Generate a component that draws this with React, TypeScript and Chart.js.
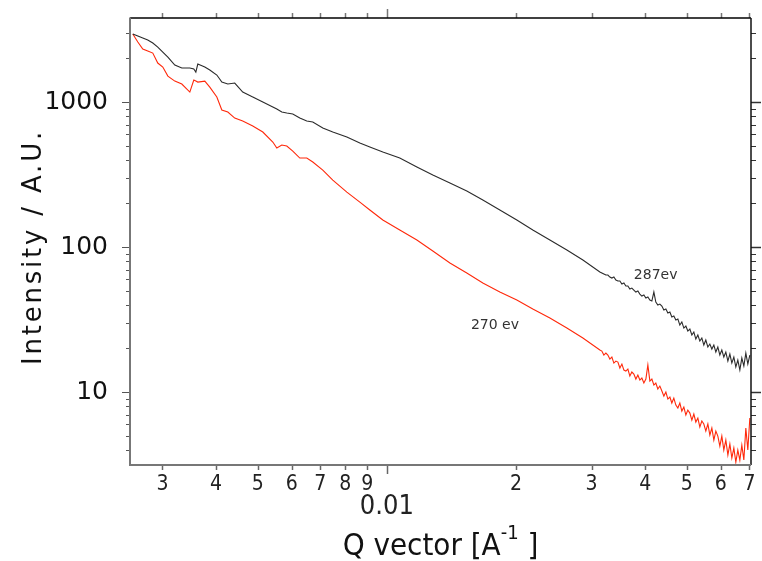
import React, { useEffect, useRef } from 'react';
import { Chart, registerables } from 'chart.js';

Chart.register(...registerables);

// Q vector values [A^-1]
const qVector = [
  0.002558, 0.002628, 0.002699, 0.002772, 0.002848, 0.002925, 0.003005, 0.003088, 0.003205, 0.003328,
  0.003474, 0.003549, 0.003588, 0.003626, 0.003765, 0.003867, 0.004016, 0.004125, 0.00426, 0.004421,
  0.004615, 0.00487, 0.00514, 0.005423, 0.005541, 0.005691, 0.005846, 0.006037, 0.006268, 0.006508,
  0.006721, 0.007092, 0.007483, 0.008069, 0.008652, 0.009129, 0.009788,
  0.01072, 0.01175, 0.0128, 0.01403, 0.01536, 0.01674, 0.01834, 0.02009, 0.02189, 0.02399, 0.02628, 0.02864, 0.03137,
  0.03171, 0.03205, 0.0324, 0.03275, 0.0331, 0.03346, 0.03382, 0.03419, 0.03456, 0.03493,
  0.03531, 0.03569, 0.03607, 0.03646, 0.03685, 0.03725, 0.03765, 0.03806, 0.03847, 0.03888,
  0.0393, 0.03973, 0.04016, 0.04059, 0.04103, 0.04147, 0.04192, 0.04236, 0.04282, 0.04329,
  0.04376, 0.04423, 0.04471, 0.04519, 0.04568, 0.04616, 0.04666, 0.04717, 0.04768, 0.04819,
  0.04871, 0.04924, 0.04977, 0.0503, 0.05085, 0.0514, 0.05195, 0.05251, 0.05308, 0.05365,
  0.05423, 0.05481, 0.0554, 0.05601, 0.05661, 0.05722, 0.05784, 0.05846, 0.05909, 0.05973,
  0.06037, 0.06102, 0.06168, 0.06236, 0.06303, 0.0637, 0.06439, 0.06508, 0.06578, 0.0665,
  0.06721, 0.06794, 0.06867, 0.06941, 0.07016,
];

// Intensity at 287 eV (black)
const intensity287 = [
  2944, 2852, 2763, 2677, 2552, 2395, 2212, 2043, 1800, 1716,
  1716, 1689, 1610, 1829, 1744, 1662, 1536, 1374, 1331, 1352,
  1172, 1083, 1000, 923.7, 894.7, 853.1, 839.7, 826.5, 775.6, 739.5,
  727.9, 661.7, 621.1, 573.6, 521.5, 489.4, 452.0,
  411.0, 356.1, 313.7, 276.3, 243.3, 210.9, 180.0, 153.6, 131.0, 111.8, 95.35, 81.36, 67.23,
  66.16, 65.12, 64.11, 64.11, 62.1, 61.13, 62.1, 59.22, 58.29, 58.29,
  55.57, 56.46, 53.84, 53.84, 51.33, 52.16, 50.52, 48.94, 49.72, 47.41,
  45.93, 46.67, 44.5, 45.21, 43.1, 42.42, 48.94, 41.75, 39.81, 40.45,
  39.18, 36.78, 37.36, 35.07, 35.63, 32.91, 33.43, 31.38, 31.88, 28.98,
  30.4, 27.63, 28.52, 26.35, 27.2, 24.73, 25.93, 23.21, 24.73, 22.48,
  23.58, 21.1, 22.84, 20.44, 21.43, 19.8, 21.1, 18.87, 20.44, 18.0,
  19.48, 17.44, 18.87, 16.36, 18.28, 15.85, 17.44, 14.88, 16.62, 14.18,
  17.16, 15.12, 18.57, 15.6, 18.0,
];

// Intensity at 270 eV (red)
const intensity270 = [
  2944, 2593, 2320, 2247, 2177, 1858, 1744, 1511, 1395, 1331,
  1172, 1418, 1395, 1374, 1395, 1269, 1083, 880.7, 853.1, 775.6,
  739.5, 683.1, 621.1, 529.8, 481.7, 505.1, 497.2, 459.3, 411.0, 411.0,
  385.7, 339.6, 289.8, 239.5, 204.3, 180.0, 153.6,
  131.0, 111.8, 93.84, 77.57, 66.17, 56.45, 48.94, 43.1, 37.36, 32.38, 27.63, 23.57, 19.48,
  19.17, 18.0, 18.57, 18.0, 16.89, 17.44, 15.85, 16.36, 16.1, 14.65,
  15.6, 14.18, 13.96, 14.41, 12.89, 13.74, 13.31, 12.29, 13.1, 12.1,
  12.49, 11.54, 12.29, 15.36, 11.91, 12.29, 11.18, 11.54, 10.49, 11.0,
  10.16, 9.38, 10.0, 8.95, 9.24, 8.4, 9.09, 8.135, 7.76, 8.4,
  7.39, 7.88, 6.939, 7.513, 7.16, 6.411, 7.05, 6.21, 6.62, 5.74,
  6.31, 6.02, 5.38, 6.02, 5.052, 5.65, 4.667, 5.38, 4.97, 4.24,
  4.97, 3.981, 4.667, 3.678, 4.38, 3.51, 4.11, 3.29, 3.981, 3.397,
  4.31, 3.397, 5.65, 3.981, 6.62,
];

const xMin = 0.00252;
const xMax = 0.0706;
const yMin = 3.14;
const yMax = 3800;

const xLabelTicks = [0.003, 0.004, 0.005, 0.006, 0.007, 0.008, 0.009, 0.01, 0.02, 0.03, 0.04, 0.05, 0.06, 0.07];
const xMajorTicks = [0.01];
const xMinorTicks = [0.003, 0.004, 0.005, 0.006, 0.007, 0.008, 0.009, 0.02, 0.03, 0.04, 0.05, 0.06, 0.07];
const yLabelTicks = [10, 100, 1000];
const yMinorTicks = [4, 5, 6, 7, 8, 9, 20, 30, 40, 50, 60, 70, 80, 90, 200, 300, 400, 500, 600, 700, 800, 900, 2000, 3000];

const yTitle = 'Intensity / A.U.';
const xTitleMain = 'Q vector [A';
const xTitleSup = '-1';
const xTitleEnd = ' ]';

const label287 = '287ev';
const label287At = { x: 0.03765, y: 64.1 };
const label270 = '270 ev';
const label270At = { x: 0.0157, y: 29.0 };

const condensed = '"Liberation Sans Narrow", "DejaVu Sans Condensed", sans-serif';
const isMajorX = (v: number) => Math.abs(v - 0.01) < 1e-9;

const framePlugin = {
  id: 'frame',
  afterDraw(chart: any) {
    const { ctx, chartArea: a, scales } = chart;
    const xs = scales.x;
    const ys = scales.y;
    ctx.save();
    const line = (x1: number, y1: number, x2: number, y2: number, color: string, w: number) => {
      ctx.beginPath();
      ctx.strokeStyle = color;
      ctx.lineWidth = w;
      ctx.moveTo(x1, y1);
      ctx.lineTo(x2, y2);
      ctx.stroke();
    };
    xMajorTicks.forEach((v) => {
      const p = Math.round(xs.getPixelForValue(v)) + 0.5;
      line(p, a.bottom, p, a.bottom + 9, '#666', 1.5);
      line(p, a.top, p, a.top - 9, '#777', 1.5);
    });
    xMinorTicks.forEach((v) => {
      const p = Math.round(xs.getPixelForValue(v)) + 0.5;
      line(p, a.bottom, p, a.bottom + 5, '#666', 1.5);
      line(p, a.top, p, a.top - 5, '#777', 1.5);
    });
    yLabelTicks.forEach((v) => {
      const p = Math.round(ys.getPixelForValue(v)) + 0.5;
      line(a.left, p, a.left - 8, p, '#555', 1);
      line(a.right, p, a.right + 10, p, '#333', 1.5);
    });
    yMinorTicks.forEach((v) => {
      const p = Math.round(ys.getPixelForValue(v)) + 0.5;
      line(a.left, p, a.left - 4, p, '#555', 1);
      line(a.right, p, a.right + 5, p, '#333', 1);
    });
    line(a.left, a.top, a.right, a.top, '#000', 1.5);
    line(a.right, a.top, a.right, a.bottom, '#111', 1.5);
    line(a.left, a.top - 0.5, a.left, a.bottom + 1, '#777', 2);
    line(a.left - 1, a.bottom, a.right, a.bottom, '#777', 2);

    ctx.fillStyle = '#111';
    ctx.font = '26px "DejaVu Sans", sans-serif';
    (ctx as any).letterSpacing = '2.8px';
    ctx.textAlign = 'center';
    ctx.textBaseline = 'alphabetic';
    ctx.save();
    ctx.translate(41, 247);
    ctx.rotate(-Math.PI / 2);
    ctx.fillText(yTitle, 0, 0);
    ctx.restore();
    (ctx as any).letterSpacing = '0px';

    const bigFont = '31px ' + condensed;
    const supFont = '20px ' + condensed;
    ctx.font = bigFont;
    const w1 = ctx.measureText(xTitleMain).width;
    const w3 = ctx.measureText(xTitleEnd).width;
    ctx.font = supFont;
    const w2 = ctx.measureText(xTitleSup).width;
    const total = w1 + w2 + w3;
    let sx = (a.left + a.right) / 2 - total / 2;
    const base = 555;
    ctx.textAlign = 'left';
    ctx.font = bigFont;
    ctx.fillText(xTitleMain, sx, base);
    sx += w1;
    ctx.font = supFont;
    ctx.fillText(xTitleSup, sx, base - 16);
    sx += w2;
    ctx.font = bigFont;
    ctx.fillText(xTitleEnd, sx, base);

    ctx.font = '14px "DejaVu Sans", sans-serif';
    ctx.fillStyle = '#333';
    ctx.textBaseline = 'middle';
    ctx.fillText(label287, xs.getPixelForValue(label287At.x), ys.getPixelForValue(label287At.y));
    ctx.fillText(label270, xs.getPixelForValue(label270At.x), ys.getPixelForValue(label270At.y));
    ctx.restore();
  },
};

export default function App() {
  const ref = useRef<HTMLCanvasElement | null>(null);
  useEffect(() => {
    if (!ref.current) return;
    const chart = new Chart(ref.current, {
      type: 'line',
      data: {
        datasets: [
          {
            label: '287ev',
            data: qVector.map((q, i) => ({ x: q, y: intensity287[i] })),
            borderColor: '#2b2b2b',
            borderWidth: 1.1,
            pointRadius: 0,
            tension: 0,
          },
          {
            label: '270 ev',
            data: qVector.map((q, i) => ({ x: q, y: intensity270[i] })),
            borderColor: 'rgb(255,40,10)',
            borderWidth: 1.1,
            pointRadius: 0,
            tension: 0,
          },
        ],
      },
      options: {
        animation: false,
        responsive: false,
        devicePixelRatio: 1,
        layout: { padding: { top: 18, right: 11, left: 0, bottom: 0 } },
        plugins: { legend: { display: false }, tooltip: { enabled: false } },
        scales: {
          x: {
            type: 'logarithmic',
            position: 'bottom',
            min: xMin,
            max: xMax,
            grid: { display: false, drawTicks: false },
            border: { display: false },
            afterBuildTicks: (s: any) => {
              s.ticks = xLabelTicks.map((v) => ({ value: v }));
            },
            afterFit: (s: any) => {
              s.height = 96;
              s.paddingLeft = 0;
              s.paddingRight = 0;
              s.paddingTop = 0;
              s.paddingBottom = 0;
            },
            ticks: {
              autoSkip: false,
              maxRotation: 0,
              padding: 7,
              color: '#222',
              font: (c: any) =>
                c.tick && isMajorX(c.tick.value)
                  ? { family: condensed, size: 27, lineHeight: 0.86 }
                  : { family: condensed, size: 21, lineHeight: 1.15 },
              callback: (v: any) => {
                const n = Number(v);
                if (isMajorX(n)) return ['', '0.01'];
                if (n < 0.01) return String(Math.round(n * 1000));
                return String(Math.round(n * 100));
              },
            },
          },
          y: {
            type: 'logarithmic',
            position: 'left',
            min: yMin,
            max: yMax,
            grid: { display: false, drawTicks: false },
            border: { display: false },
            afterBuildTicks: (s: any) => {
              s.ticks = yLabelTicks.map((v) => ({ value: v }));
            },
            afterFit: (s: any) => {
              s.width = 130;
              s.paddingLeft = 0;
              s.paddingRight = 0;
              s.paddingTop = 0;
              s.paddingBottom = 0;
            },
            ticks: {
              padding: 22,
              color: '#111',
              font: { family: '"DejaVu Sans", sans-serif', size: 25 },
              callback: (v: any) => String(Number(v)),
            },
          },
        },
      },
      plugins: [framePlugin],
    });
    return () => chart.destroy();
  }, []);
  return (
    <div style={{ position: 'absolute', left: 0, top: 0, width: 762, height: 561, background: '#fff' }}>
      <canvas ref={ref} width={762} height={561} />
    </div>
  );
}
